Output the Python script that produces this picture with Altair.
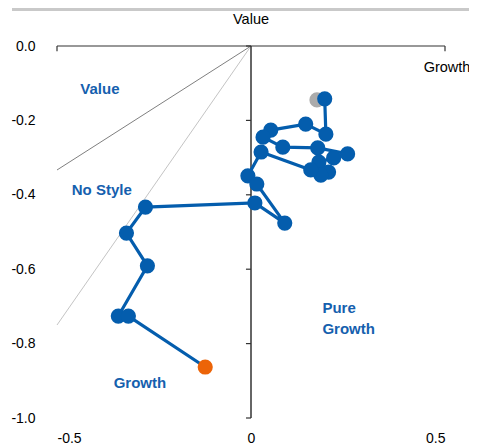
import altair as alt
import pandas as pd

# ---- data ----
# path of the series in time order (first point grey, last point orange)
path_x = [0.170, 0.190, 0.193, 0.141, 0.051, 0.031, 0.082, 0.172, 0.249, 0.213,
          0.175, 0.200, 0.180, 0.154, 0.026, -0.008, 0.015, 0.087, 0.010,
          -0.272, -0.321, -0.267, -0.342, -0.316, -0.118]
path_y = [-0.145, -0.142, -0.237, -0.210, -0.226, -0.245, -0.272, -0.274, -0.290, -0.301,
          -0.312, -0.339, -0.347, -0.333, -0.285, -0.349, -0.371, -0.476, -0.422,
          -0.433, -0.503, -0.591, -0.726, -0.726, -0.863]

x_ticks = [-0.5, 0.0, 0.5]
y_ticks = [0.0, -0.2, -0.4, -0.6, -0.8, -1.0]

# style boundary lines from the origin
bound_names = ["value_edge", "value_edge", "growth_edge", "growth_edge"]
bound_x = [0.0, -0.5, 0.0, -0.5]
bound_y = [0.0, -0.3333, 0.0, -0.75]

# region labels
region_text = ["Value", "No Style", "Growth", "Pure", "Growth"]
region_x = [-0.440, -0.462, -0.354, 0.184, 0.184]
region_y = [-0.116, -0.387, -0.906, -0.704, -0.761]

BLUE = "#045DAD"
LABEL_BLUE = "#1560AE"
ORANGE = "#EC6408"
GREY = "#ABABAB"
FONT = "Liberation Sans"

n = len(path_x)
stage = ["start"] + ["mid"] * (n - 2) + ["end"]
pts = pd.DataFrame({"x": path_x, "y": path_y, "i": list(range(n)), "stage": stage})
bounds = pd.DataFrame({"g": bound_names, "x": bound_x, "y": bound_y})
regions = pd.DataFrame({"t": region_text, "x": region_x, "y": region_y})
yt = pd.DataFrame({"v": y_ticks})
xt = pd.DataFrame({"v": [x_ticks[0], x_ticks[-1]]})

xs = alt.Scale(domain=[-0.5, 0.5], nice=False, zero=False)
ys = alt.Scale(domain=[-1.0, 0.0], nice=False, zero=False)

x_axis = alt.Axis(values=x_ticks, domain=False, ticks=False, grid=False, title=None,
                  labelFont=FONT, labelFontSize=14, labelColor="black", labelPadding=13,
                  labelExpr="datum.value == 0 ? '0' : (datum.value < 0 ? '-' : '') + format(abs(datum.value), '.1f')")
y_axis = alt.Axis(values=y_ticks, domain=False, ticks=False, grid=False, title=None,
                  labelFont=FONT, labelFontSize=14, labelColor="black", labelPadding=22,
                  labelExpr="datum.value == 0 ? '0.0' : '-' + format(abs(datum.value), '.1f')")

base_x = alt.X("x:Q", scale=xs, axis=x_axis)
base_y = alt.Y("y:Q", scale=ys, axis=y_axis)

# diagonal boundary lines
diag = alt.Chart(bounds).mark_line(strokeWidth=1).encode(
    x=base_x, y=base_y, detail="g:N",
    color=alt.Color("g:N", scale=alt.Scale(domain=["value_edge", "growth_edge"],
                                           range=["#7F7F7F", "#C4C4C4"]), legend=None),
)

# axes drawn through the origin
v_line = alt.Chart(pd.DataFrame({"a": [0]})).mark_rule(color="#333333", strokeWidth=1.5).encode(
    x=alt.datum(0.0, scale=xs), y=alt.datum(0.0, scale=ys), y2=alt.datum(-1.0))
h_line = alt.Chart(pd.DataFrame({"a": [0]})).mark_rule(color="#333333", strokeWidth=1.2).encode(
    x=alt.datum(-0.5, scale=xs), x2=alt.datum(0.5), y=alt.datum(0.0, scale=ys))
y_tick_marks = alt.Chart(yt).mark_rule(color="#333333", strokeWidth=1.2).encode(
    y=alt.Y("v:Q", scale=ys), x=alt.datum(0.0, scale=xs), x2=alt.datum(-0.013))
x_tick_marks = alt.Chart(xt).mark_rule(color="#333333", strokeWidth=1.2).encode(
    x=alt.X("v:Q", scale=xs), y=alt.datum(0.0, scale=ys), y2=alt.datum(-0.014))

# top grey bar
top_bar = alt.Chart(pd.DataFrame({"a": [0]})).mark_rule(color="#C9C9C9", strokeWidth=4).encode(
    x=alt.value(-45), x2=alt.value(430), y=alt.value(-37))

# axis captions
cap_value = alt.Chart(pd.DataFrame({"t": ["Value"]})).mark_text(
    font=FONT, fontSize=14.5, color="black", dy=-26, baseline="middle", align="center").encode(
    x=alt.datum(0.0, scale=xs), y=alt.datum(0.0, scale=ys), text="t:N")
cap_growth = alt.Chart(pd.DataFrame({"t": ["Growth"]})).mark_text(
    font=FONT, fontSize=14.5, color="black", dx=2, dy=22, baseline="middle", align="center").encode(
    x=alt.datum(0.5, scale=xs), y=alt.datum(0.0, scale=ys), text="t:N")

# region labels
reg = alt.Chart(regions).mark_text(font=FONT, fontSize=15, fontWeight="bold", color=LABEL_BLUE,
                                   align="left", baseline="middle").encode(
    x=alt.X("x:Q", scale=xs), y=alt.Y("y:Q", scale=ys), text="t:N")

# series path
line = alt.Chart(pts).mark_line(color=BLUE, strokeWidth=3.2).encode(
    x=alt.X("x:Q", scale=xs), y=alt.Y("y:Q", scale=ys), order="i:Q")
dots = alt.Chart(pts).mark_circle(opacity=1).encode(
    x=alt.X("x:Q", scale=xs), y=alt.Y("y:Q", scale=ys),
    color=alt.Color("stage:N", scale=alt.Scale(domain=["start", "mid", "end"],
                                               range=[GREY, BLUE, ORANGE]), legend=None),
    size=alt.Size("stage:N", scale=alt.Scale(domain=["start", "mid", "end"],
                                             range=[230, 230, 230]), legend=None),
    order="i:Q",
)

chart = alt.layer(
    top_bar, diag, h_line, v_line, y_tick_marks, x_tick_marks,
    cap_value, cap_growth, reg, line, dots,
).resolve_scale(color="independent", size="independent").properties(
    width=388, height=372,
    autosize=alt.AutoSizeParams(type="none"),
    padding={"left": 49, "top": 38, "right": 24, "bottom": 28},
    background="white",
).configure_view(stroke=None)

chart.save("out.html", embed_options={"renderer": "svg", "actions": False})
